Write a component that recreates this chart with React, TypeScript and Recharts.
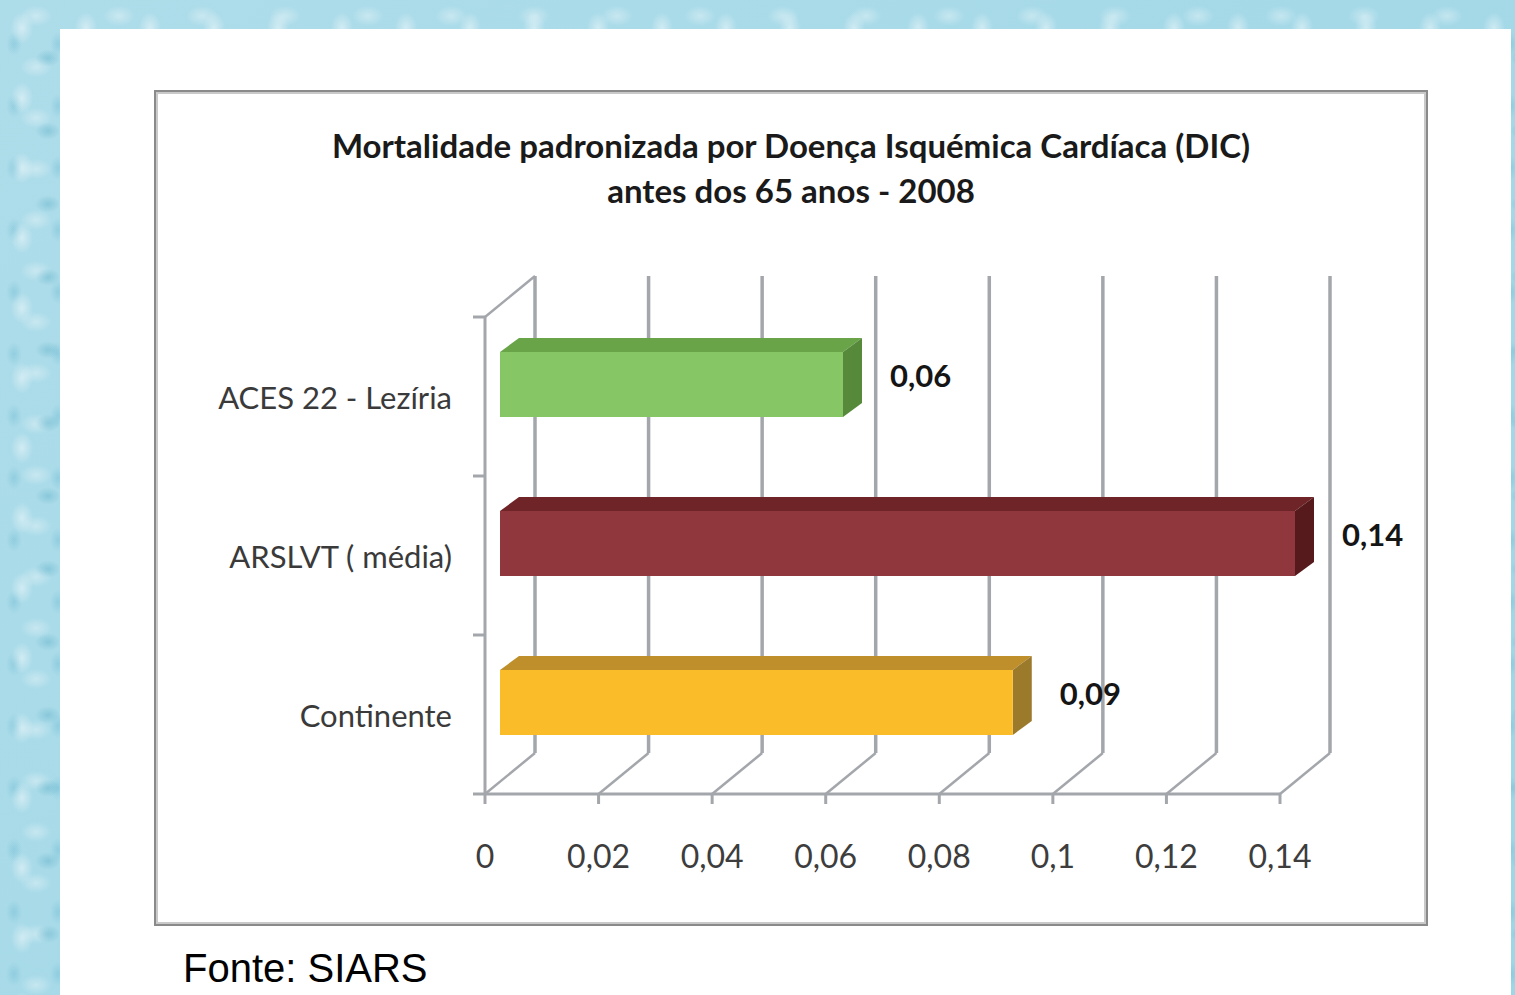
import React from 'react';
import { BarChart, Bar, XAxis, YAxis, CartesianGrid, Cell, LabelList } from 'recharts';

// ---- data ----
const categories = ['ACES 22 - Lezíria', 'ARSLVT ( média)', 'Continente'];
const values = [0.0604, 0.14, 0.0903];
const xTicks = [0, 0.02, 0.04, 0.06, 0.08, 0.1, 0.12, 0.14];
const titleLines = ['Mortalidade padronizada  por Doença Isquémica Cardíaca (DIC)', 'antes dos 65 anos - 2008'];
const sourceText = 'Fonte: SIARS';

// ---- styles ----
const PALETTE = [
  { front: '#86c664', top: '#6aa449', side: '#568a3a' },
  { front: '#8f373c', top: '#6f2528', side: '#561a1c' },
  { front: '#fbbc29', top: '#bf8f2c', side: '#9c7a2b' },
];
const GRID = '#a3a6ab';
const DX = 50;   // back wall depth offset
const DY = -41;
const OX = 15;   // bar depth position
const OY = -12;
const EX = 19;   // bar extrusion
const EY = -14;
const FONT = 'Lato, "Open Sans", sans-serif';

const data = categories.map((name, i) => ({ name, value: values[i] }));

const fmtTick = (v: number) => String(v).replace('.', ',');
const fmtVal = (v: number) => v.toFixed(2).replace('.', ',');

const GridLine = (props: any) => {
  const { x1, y1, y2, x } = props;
  const isLeft = Math.abs(x1 - x) < 0.5;
  return (
    <g>
      <line x1={x1 + DX} y1={y1 + DY} x2={x1 + DX} y2={y2 + DY} stroke={GRID} strokeWidth={3.5} />
      <line x1={x1} y1={y2} x2={x1 + DX} y2={y2 + DY} stroke={GRID} strokeWidth={2.5} />
      {isLeft && <line x1={x1} y1={y1} x2={x1 + DX} y2={y1 + DY} stroke={GRID} strokeWidth={2.5} />}
    </g>
  );
};

const Bar3D = (props: any) => {
  const { x, y, width, height, index } = props;
  const c = PALETTE[index % PALETTE.length];
  const fx = x + OX;
  const fy = y + OY;
  return (
    <g>
      <polygon
        points={`${fx},${fy} ${fx + EX},${fy + EY} ${fx + width + EX},${fy + EY} ${fx + width},${fy}`}
        fill={c.top}
      />
      <polygon
        points={`${fx + width},${fy} ${fx + width + EX},${fy + EY} ${fx + width + EX},${fy + height + EY} ${fx + width},${fy + height}`}
        fill={c.side}
      />
      <rect x={fx} y={fy} width={width} height={height} fill={c.front} />
    </g>
  );
};

const ValueLabel = (props: any) => {
  const { x, y, width, height, value } = props;
  return (
    <text
      x={x + width + 62}
      y={y + height / 2 - 22}
      dominantBaseline="central"
      fontFamily={FONT}
      fontWeight={700}
      fontSize={31}
      fill="#151515"
    >
      {fmtVal(value)}
    </text>
  );
};

const Y_TICK = 10;
const Y_MARGIN = 23;

const YTick = (props: any) => {
  const { x, y, payload, index, visibleTicksCount, height } = props;
  const half = payload && payload.offset != null ? payload.offset : height / visibleTicksCount / 2;
  const ax = x + Y_TICK + Y_MARGIN;
  return (
    <g>
      <line x1={ax - 12} y1={y - half} x2={ax} y2={y - half} stroke={GRID} strokeWidth={3} />
      {index === visibleTicksCount - 1 && (
        <line x1={ax - 12} y1={y + half} x2={ax} y2={y + half} stroke={GRID} strokeWidth={3} />
      )}
      <text
        x={x}
        y={y}
        textAnchor="end"
        dominantBaseline="central"
        fontFamily={FONT}
        fontSize={31}
        fill="#3a3a3a"
      >
        {payload.value}
      </text>
    </g>
  );
};

const XTick = (props: any) => {
  const { x, y, payload } = props;
  return (
    <text x={x} y={y + 23} textAnchor="middle" fontFamily={FONT} fontSize={32} fill="#3d3d3d">
      {fmtTick(payload.value)}
    </text>
  );
};

const bgStyle: React.CSSProperties = {
  position: 'absolute',
  left: 0,
  top: 0,
  width: 1515,
  height: 995,
  overflow: 'hidden',
  backgroundColor: '#a3d8e7',
  backgroundImage: [
    'radial-gradient(ellipse 14px 20px at 22px 28px, rgba(255,255,255,0.45), rgba(255,255,255,0) 80%)',
    'radial-gradient(ellipse 16px 11px at 48px 58px, rgba(50,150,180,0.28), rgba(50,150,180,0) 80%)',
    'radial-gradient(ellipse 20px 13px at 36px 16px, rgba(255,255,255,0.35), rgba(255,255,255,0) 80%)',
    'radial-gradient(ellipse 10px 15px at 14px 44px, rgba(70,165,195,0.25), rgba(70,165,195,0) 80%)',
    'linear-gradient(135deg, rgba(255,255,255,0.12), rgba(120,200,220,0.12))',
  ].join(','),
  backgroundSize: '64px 70px, 59px 73px, 83px 51px, 44px 62px, 100% 100%',
};

export default function App() {
  return (
    <div style={bgStyle}>
      <div style={{ position: 'absolute', left: 60, top: 29, width: 1451, height: 980, background: '#ffffff' }} />
      <div
        style={{
          position: 'absolute',
          left: 154,
          top: 90,
          width: 1270,
          height: 832,
          border: '2px solid #8a8a8a',
          boxShadow: 'inset 0 0 0 2px #c9c9c9',
          background: '#ffffff',
        }}
      />
      <svg width={1515} height={995} style={{ position: 'absolute', left: 0, top: 0 }}>
        <text x={791} y={158} textAnchor="middle" fontFamily={FONT} fontWeight={700} fontSize={33} fill="#1a1a1a">
          {titleLines[0]}
        </text>
        <text x={791} y={203} textAnchor="middle" fontFamily={FONT} fontWeight={700} fontSize={33} fill="#1a1a1a">
          {titleLines[1]}
        </text>
        <text x={183} y={982} fontFamily='"Liberation Sans", Arial, sans-serif' fontSize={40} fill="#000000">
          {sourceText}
        </text>
      </svg>
      <div style={{ position: 'absolute', left: 0, top: 0 }}>
        <BarChart
          width={1515}
          height={995}
          data={data}
          layout="vertical"
          margin={{ top: 317, right: 235, bottom: 121, left: 285 }}
        >
          <CartesianGrid horizontal={false} vertical={GridLine} />
          <XAxis
            type="number"
            domain={[0, 0.14]}
            ticks={xTicks}
            height={80}
            axisLine={{ stroke: GRID, strokeWidth: 3 }}
            tickLine={{ stroke: GRID, strokeWidth: 3 }}
            tickSize={10}
            tickMargin={41}
            tick={XTick}
            interval={0}
          />
          <YAxis
            type="category"
            dataKey="name"
            width={200}
            axisLine={{ stroke: GRID, strokeWidth: 3 }}
            tickLine={false}
            tickSize={Y_TICK}
            tickMargin={Y_MARGIN}
            tick={YTick}
            interval={0}
          />
          <Bar dataKey="value" barSize={65} shape={Bar3D} isAnimationActive={false}>
            {data.map((d, i) => (
              <Cell key={d.name} fill={PALETTE[i].front} />
            ))}
            <LabelList dataKey="value" content={ValueLabel} />
          </Bar>
        </BarChart>
      </div>
    </div>
  );
}
